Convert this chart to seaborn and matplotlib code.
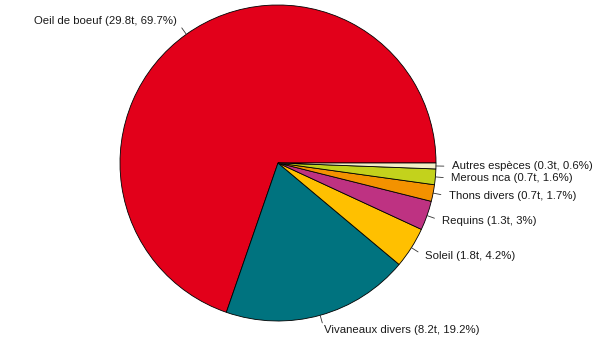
import numpy as np
import matplotlib
matplotlib.use("Agg")
import matplotlib.pyplot as plt
import seaborn as sns

especes = ["Oeil de boeuf", "Vivaneaux divers", "Soleil", "Requins",
           "Thons divers", "Merous nca", "Autres espèces"]
tonnes = ["29.8", "8.2", "1.8", "1.3", "0.7", "0.7", "0.3"]
pourcent = [69.7, 19.2, 4.2, 3, 1.7, 1.6, 0.6]
couleurs = ["#E2001A", "#00737F", "#FFC000", "#BE3282", "#F39200", "#C3D21C", "#F3EFC8"]

labels = [f"{e} ({t}t, {p:g}%)" for e, t, p in zip(especes, tonnes, pourcent)]

sns.set_theme(style="white")
plt.rcParams['font.family'] = ['Liberation Sans', 'DejaVu Sans']

W, H = 594, 343
fig = plt.figure(figsize=(W / 100, H / 100), dpi=100)
cx, cy, r = 278, 343 - 163, 158
lim = 1.2
half = r * lim
ax = fig.add_axes([(cx - half) / W, (cy - half) / H, 2 * half / W, 2 * half / H])

wedges, texts = ax.pie(pourcent, colors=couleurs, startangle=0, counterclock=True,
                       labels=labels, labeldistance=1.1,
                       wedgeprops=dict(edgecolor="black", linewidth=0.6),
                       textprops=dict(fontsize=8.2, color="#1a1a1a"))
for w in wedges:
    mid = np.deg2rad((w.theta1 + w.theta2) / 2)
    ax.plot([np.cos(mid), 1.05 * np.cos(mid)], [np.sin(mid), 1.05 * np.sin(mid)],
            color="#333333", lw=0.6)
for t in texts:
    t.set_va("center")
ax.set_xlim(-lim, lim)
ax.set_ylim(-lim, lim)
ax.set_aspect("equal")
ax.axis("off")
fig.savefig("out.png", dpi=100)
